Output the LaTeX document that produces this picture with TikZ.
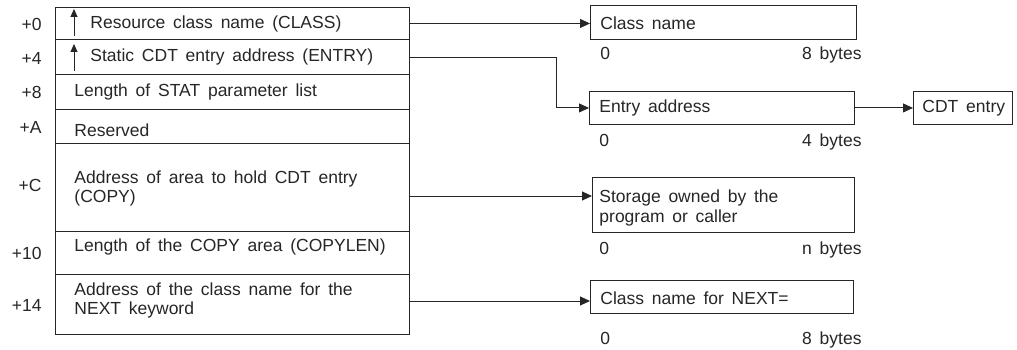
\documentclass[tikz,border=0pt]{standalone}
\usepackage{fontspec}
\setmainfont{Liberation Sans}[WordSpace={1.6}]
\usetikzlibrary{arrows.meta}
\begin{document}
\begin{tikzpicture}[x=1pt,y=-1pt,
  line width=0.9pt, draw=black!85,
  every node/.style={font=\fontsize{17.5}{19.5}\selectfont, text=black!85},
  rowbox/.style={draw, rectangle, inner sep=0, anchor=north west},
  txt/.style={inner sep=0, anchor=west, align=left},
  off/.style={inner sep=0, anchor=east},
  lo/.style={inner sep=0, anchor=base west},
  hi/.style={inner sep=0, anchor=base east},
  arr/.style={-{Triangle[length=10pt,width=9pt]}},
  uparr/.style={-{Triangle[length=8pt,width=7pt]}}]
\useasboundingbox (0,0) rectangle (1017,350);
% left table rows
\node[rowbox, minimum width=354, minimum height=32] (r0) at (55,7) {};
\node[rowbox, minimum width=354, minimum height=35] (r4) at (55,39) {};
\node[rowbox, minimum width=354, minimum height=35] (r8) at (55,74) {};
\node[rowbox, minimum width=354, minimum height=34] (rA) at (55,109) {};
\node[rowbox, minimum width=354, minimum height=88] (rC) at (55,143) {};
\node[rowbox, minimum width=354, minimum height=43] (r10) at (55,231) {};
\node[rowbox, minimum width=354, minimum height=60] (r14) at (55,274) {};
% offsets
\node[off] (o0) at (42,24) {+0};
\node[off] (o4) at (42,58) {+4};
\node[off] (o8) at (42,92) {+8};
\node[off] (oA) at (42,127) {+A};
\node[off] (oC) at (42,185) {+C};
\node[off] (o10) at (42,253) {+10};
\node[off] (o14) at (42,305) {+14};
% row texts
\node[txt] (t0) at (90,24) {Resource class name (CLASS)};
\node[txt] (t4) at (90,57) {Static CDT entry address (ENTRY)};
\node[txt] (t8) at (74,92) {Length of STAT parameter list};
\node[txt] (tA) at (74,130) {Reserved};
\node[txt] (tC) at (74,188.5) {Address of area to hold CDT entry\\(COPY)};
\node[txt] (t10) at (74,247) {Length of the COPY area (COPYLEN)};
\node[txt] (t14) at (74,300.5) {Address of the class name for the\\NEXT keyword};
% up arrows
\coordinate (u0a) at (74,36); \coordinate (u0b) at (74,9);
\coordinate (u4a) at (74,71); \coordinate (u4b) at (74,44);
\draw[uparr] (u0a) -- (u0b);
\draw[uparr] (u4a) -- (u4b);
% right boxes
\node[rowbox, minimum width=266, minimum height=34] (cn) at (590,5) {};
\node[txt] (cnt) at (600,23) {Class name};
\node[lo] (cn0) at (600,59.5) {0};
\node[hi] (cnb) at (862,59.5) {8 bytes};

\node[rowbox, minimum width=265, minimum height=33] (ea) at (589,91) {};
\node[txt] (eat) at (599,108) {Entry address};
\node[lo] (ea0) at (599,146.5) {0};
\node[hi] (eab) at (862,146.5) {4 bytes};

\node[rowbox, minimum width=99, minimum height=33] (cdt) at (913,91) {};
\node[txt] (cdtt) at (922,108) {CDT entry};

\node[rowbox, minimum width=262, minimum height=55] (st) at (592,177) {};
\node[txt] (stt) at (599,208) {Storage owned by the\\program or caller};
\node[lo] (st0) at (599,254.5) {0};
\node[hi] (stb) at (862,254.5) {n bytes};

\node[rowbox, minimum width=263, minimum height=33] (nx) at (590,280) {};
\node[txt] (nxt) at (600,298) {Class name for NEXT=};
\node[lo] (nx0) at (600,344) {0};
\node[hi] (nxb) at (862,344) {8 bytes};
% connectors
\draw[arr] (r0.east) -- (r0.east -| cn.west);
\coordinate (bend) at (556,57);
\draw[arr] (r4.east |- bend) -- (bend) |- (ea.west);
\draw[arr] (ea.east) -- (cdt.west);
\coordinate (cy) at (0,196);
\draw[arr] (rC.east |- cy) -- (st.west |- cy);
\coordinate (ny) at (0,301);
\draw[arr] (r14.east |- ny) -- (nx.west |- ny);
\end{tikzpicture}
\end{document}
